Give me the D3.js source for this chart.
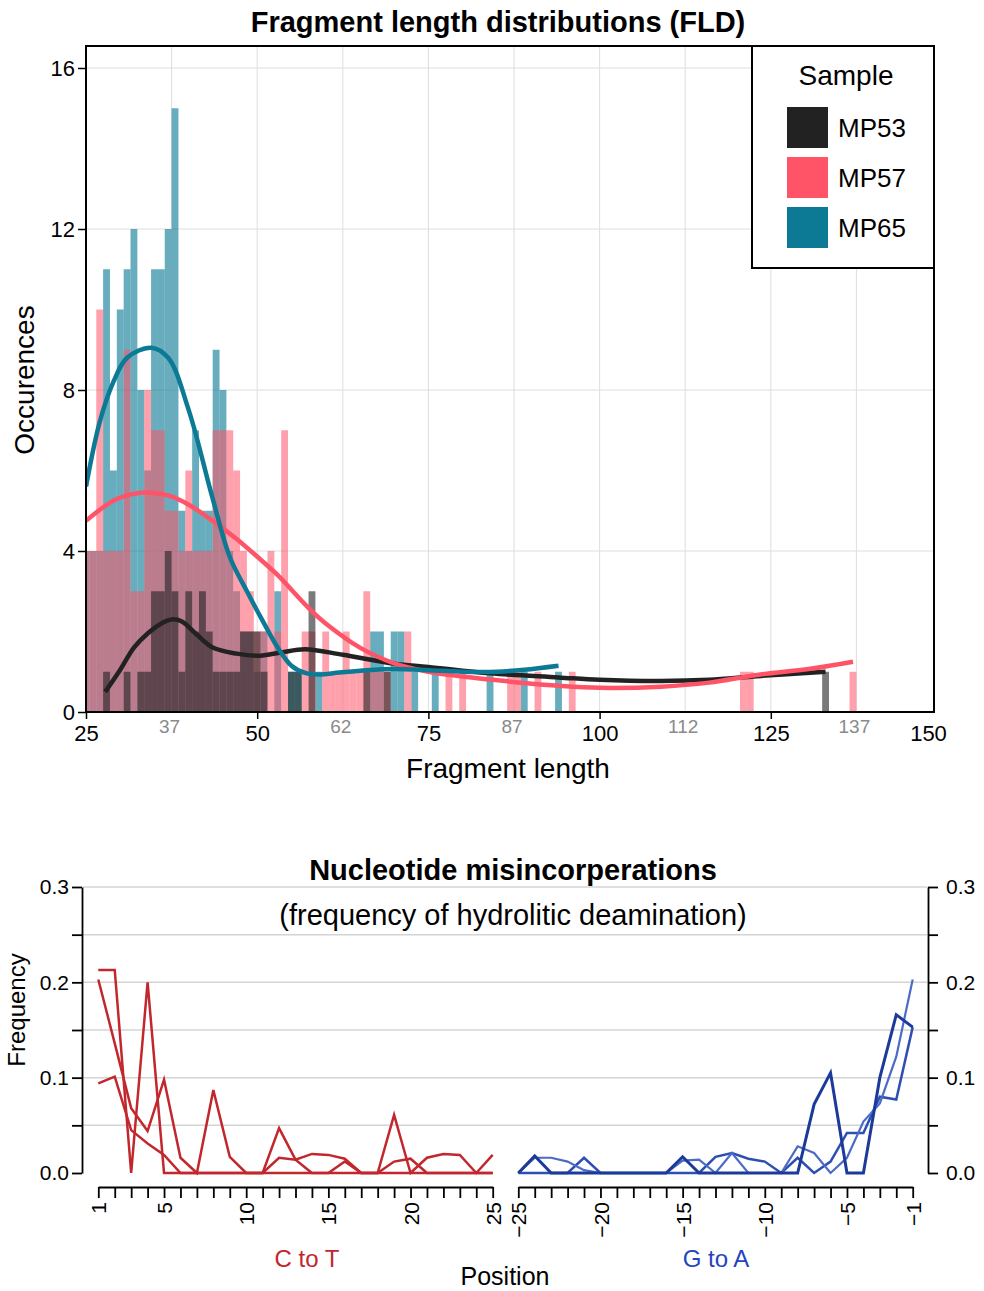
<!DOCTYPE html>
<html>
<head>
<meta charset="utf-8">
<script src="https://cdn.jsdelivr.net/npm/d3@7"></script>
<style>
  body { margin: 0; background: #fff; }
  svg { display: block; font-family: "Liberation Sans", Arial, Helvetica, sans-serif; }
</style>
</head>
<body>
<svg id="drawing_region"></svg>
<script>
// ---- fragment length histogram data (length -> occurences) ----
const samples = ['MP53', 'MP57', 'MP65'];

const mp53Lengths = [28,31,33,34,35,36,37,38,39,40,41,42,43,44,45,46,47,48,49,50,51,55,56,58,66,69,133];
const mp53Counts  = [1,1,1,1,3,3,4,3,1,3,2,3,2,1,1,1,1,2,2,2,1,1,1,3,1,1,1];

const mp57Lengths = [25,26,27,28,29,30,31,32,33,34,35,36,37,38,39,40,41,42,43,44,45,46,47,48,49,50,51,52,53,54,57,58,60,61,62,63,64,65,66,67,68,69,72,78,80,87,88,91,96,121,122,137];
const mp57Counts  = [4,4,10,4,4,4,9,3,3,8,7,7,5,5,4,6,4,4,4,7,7,7,6,4,3,2,2,4,2,7,2,2,2,1,1,2,1,1,3,1,1,1,2,1,1,1,1,1,1,1,1,1];

const mp65Lengths = [25,26,27,28,29,30,31,32,33,34,35,36,37,38,39,40,41,42,43,44,45,46,47,48,49,50,51,53,55,56,59,67,68,70,71,73,76,84,89,94];
const mp65Counts  = [4,4,4,11,6,10,11,12,8,6,11,11,12,15,5,4,7,5,5,9,8,4,3,2,2,1,2,3,1,1,1,2,2,2,2,1,1,1,1,1];

// smoothed density lines
const mp53SmoothX = [27.8,30,32,34,36,37.5,39,41,43.5,47,50.4,53.5,57,62.5,70,75,84,94,100,109,116,123,133];
const mp53SmoothY = [0.5,1.05,1.6,1.95,2.2,2.3,2.25,1.95,1.6,1.45,1.4,1.48,1.56,1.42,1.2,1.12,0.96,0.86,0.8,0.77,0.8,0.89,1.0];
const mp57SmoothX = [25,29,32,34.6,37,40,43.5,47,50.4,53,55.2,58,60,65,70,75,80,84.4,89,94,100,109,116,123,131,137];
const mp57SmoothY = [4.75,5.25,5.42,5.45,5.38,5.15,4.75,4.3,3.8,3.4,3.0,2.5,2.2,1.6,1.21,1.0,0.88,0.8,0.72,0.65,0.6,0.63,0.73,0.92,1.08,1.25];
const mp65SmoothX = [25,27,29,31,34.5,37,40,43.5,46,48.5,51,53,55,57,59,62,66,70,75,80,85,89,94];
const mp65SmoothY = [5.6,7.2,8.2,8.8,9.05,8.8,7.5,5.3,3.85,3.0,2.2,1.6,1.15,0.97,0.93,0.98,1.04,1.07,1.04,1.0,1.0,1.05,1.15];

const fldXTicks = [25,50,75,100,125,150];
const fldXMinor = [37.5,62.5,87.5,112.5,137.5];
const fldXMinorLabels = ['37','62','87','112','137'];
const fldYTicks = [0,4,8,12,16];

// ---- nucleotide misincorporation data ----
const posCT = [1,2,3,4,5,6,7,8,9,10,11,12,13,14,15,16,17,18,19,20,21,22,23,24,25];
const posGA = [-25,-24,-23,-22,-21,-20,-19,-18,-17,-16,-15,-14,-13,-12,-11,-10,-9,-8,-7,-6,-5,-4,-3,-2,-1];
const ct1 = [0.213,0.213,0,0.2,0,0,0,0,0,0,0,0,0,0,0,0,0,0,0,0,0,0,0,0,0];
const ct2 = [0.203,0.136,0.068,0.044,0.098,0.016,0,0.087,0.017,0,0,0.047,0.014,0,0,0.012,0,0,0.061,0,0.016,0.02,0.019,0,0.019];
const ct3 = [0.094,0.101,0.045,0.031,0.019,0,0,0,0,0,0,0.016,0.014,0.02,0.019,0.015,0,0,0.012,0.015,0,0,0,0,0];
const ga1 = [0,0.018,0,0,0,0,0,0,0,0,0.017,0,0,0,0,0,0,0,0.072,0.105,0,0,0.1,0.166,0.153];
const ga2 = [0,0.016,0.016,0.012,0.003,0,0,0,0,0,0.013,0.014,0,0.021,0,0,0,0.028,0.021,0,0.016,0.054,0.073,0.122,0.203];
const ga3 = [0,0,0,0,0.016,0,0,0,0,0,0,0,0.017,0.021,0.015,0.012,0,0.016,0,0.012,0.042,0.042,0.08,0.077,0.153];

const freqTicks = [0,0.05,0.1,0.15,0.2,0.25,0.3];
const ctTickLabels = [1,5,10,15,20,25];
const gaTickLabels = [-25,-20,-15,-10,-5,-1];

const colors = { MP53: '#222222', MP57: '#ff5468', MP65: '#0c7a94' };

const svg = d3.select('#drawing_region')
    .attr('width', 984)
    .attr('height', 1291);

svg.append('rect').attr('width', 984).attr('height', 1291).attr('fill', '#fff');

drawFLD();
drawMisincorporation();

function drawFLD() {
    const area = { left: 86, right: 934, top: 46, bottom: 712 };

    const x = d3.scaleLinear().domain([25, 150]).range([86, 942]);
    const y = d3.scaleLinear().domain([0, 16]).range([712, 68]);

    svg.append('clipPath').attr('id', 'fld-clip')
        .append('rect')
        .attr('x', area.left).attr('y', area.top)
        .attr('width', area.right - area.left).attr('height', area.bottom - area.top);

    const grid = svg.append('g').attr('stroke', '#dedede').attr('stroke-width', 1);
    grid.selectAll('.gx')
        .data(fldXTicks.concat(fldXMinor).filter(d => x(d) < area.right))
        .join('line')
        .attr('x1', d => x(d)).attr('x2', d => x(d))
        .attr('y1', area.top).attr('y2', area.bottom);
    grid.selectAll('.gy')
        .data(fldYTicks)
        .join('line')
        .attr('x1', area.left).attr('x2', area.right)
        .attr('y1', d => y(d)).attr('y2', d => y(d));

    const chart = svg.append('g').attr('clip-path', 'url(#fld-clip)');

    const bars = [
        { lengths: mp65Lengths, counts: mp65Counts, color: colors.MP65, opacity: 0.62 },
        { lengths: mp57Lengths, counts: mp57Counts, color: colors.MP57, opacity: 0.55 },
        { lengths: mp53Lengths, counts: mp53Counts, color: colors.MP53, opacity: 0.6 }
    ];
    bars.forEach(s => {
        chart.append('g')
            .selectAll('rect')
            .data(d3.zip(s.lengths, s.counts))
            .join('rect')
            .attr('x', d => x(d[0] - 0.5))
            .attr('width', d => x(d[0] + 0.5) - x(d[0] - 0.5))
            .attr('y', d => y(d[1]))
            .attr('height', d => y(0) - y(d[1]))
            .attr('fill', s.color)
            .attr('fill-opacity', s.opacity);
    });

    const line = d3.line()
        .x(d => x(d[0]))
        .y(d => y(d[1]))
        .curve(d3.curveCatmullRom.alpha(0.5));

    const smooth = [
        { xs: mp53SmoothX, ys: mp53SmoothY, color: colors.MP53 },
        { xs: mp57SmoothX, ys: mp57SmoothY, color: colors.MP57 },
        { xs: mp65SmoothX, ys: mp65SmoothY, color: colors.MP65 }
    ];
    smooth.forEach(s => {
        chart.append('path')
            .datum(d3.zip(s.xs, s.ys))
            .attr('d', line)
            .attr('fill', 'none')
            .attr('stroke', s.color)
            .attr('stroke-width', 4.5)
            .attr('stroke-linecap', 'butt');
    });

    // frame
    svg.append('rect')
        .attr('x', area.left).attr('y', area.top)
        .attr('width', area.right - area.left).attr('height', area.bottom - area.top)
        .attr('fill', 'none').attr('stroke', '#000').attr('stroke-width', 2);

    const yAxis = svg.append('g')
        .attr('transform', `translate(${area.left},0)`)
        .call(d3.axisLeft(y).tickValues(fldYTicks).tickSize(8).tickSizeOuter(0));
    yAxis.select('.domain').remove();
    yAxis.selectAll('line').attr('stroke-width', 1.5);
    yAxis.selectAll('text').attr('font-size', 22).attr('fill', '#000').attr('x', -11);

    const xAxis = svg.append('g')
        .attr('transform', `translate(0,${area.bottom})`)
        .call(d3.axisBottom(x).tickValues(fldXTicks).tickSize(7).tickSizeOuter(0));
    xAxis.select('.domain').remove();
    xAxis.selectAll('line').attr('stroke-width', 1.5);
    xAxis.selectAll('text').attr('font-size', 22).attr('fill', '#000').attr('y', 13);
    // last label sits at the frame corner in the original
    xAxis.selectAll('.tick').filter(d => d === 150).select('text').attr('dx', -14);
    xAxis.selectAll('.tick').filter(d => d === 150).select('line').remove();

    svg.append('g').selectAll('text')
        .data(d3.zip(fldXMinor, fldXMinorLabels))
        .join('text')
        .attr('x', d => x(d[0]) - 2)
        .attr('y', area.bottom + 21)
        .attr('text-anchor', 'middle')
        .attr('font-size', 19)
        .attr('fill', '#8a8a8a')
        .text(d => d[1]);

    svg.append('text')
        .attr('x', 498).attr('y', 32)
        .attr('text-anchor', 'middle')
        .attr('font-size', 29).attr('font-weight', 700)
        .text('Fragment length distributions (FLD)');

    svg.append('text')
        .attr('x', 508).attr('y', 778)
        .attr('text-anchor', 'middle')
        .attr('font-size', 28)
        .text('Fragment length');

    svg.append('text')
        .attr('transform', 'translate(34,380) rotate(-90)')
        .attr('text-anchor', 'middle')
        .attr('font-size', 28)
        .text('Occurences');

    // legend
    const legend = svg.append('g');
    legend.append('rect')
        .attr('x', 752).attr('y', 46).attr('width', 182).attr('height', 222)
        .attr('fill', '#fff').attr('stroke', '#000').attr('stroke-width', 2);
    legend.append('text')
        .attr('x', 846).attr('y', 85)
        .attr('text-anchor', 'middle')
        .attr('font-size', 28)
        .text('Sample');
    samples.forEach((s, i) => {
        legend.append('rect')
            .attr('x', 787).attr('y', 107 + i * 50)
            .attr('width', 41).attr('height', 41)
            .attr('fill', colors[s]);
        legend.append('text')
            .attr('x', 838).attr('y', 137 + i * 50)
            .attr('font-size', 26)
            .text(s);
    });
}

function drawMisincorporation() {
    const top = 887, bottom = 1173, leftX = 82, rightX = 928, axisY = 1187;

    const y = d3.scaleLinear().domain([0, 0.3]).range([bottom, top]);
    const xCT = d3.scaleLinear().domain([1, 25]).range([98.3, 492.7]);
    const xGA = d3.scaleLinear().domain([-25, -1]).range([518.3, 912.7]);

    svg.append('g').attr('stroke', '#d4d4d4').attr('stroke-width', 1.5)
        .selectAll('line')
        .data(freqTicks.filter(d => d > 0))
        .join('line')
        .attr('x1', leftX + 1).attr('x2', rightX - 1)
        .attr('y1', d => y(d)).attr('y2', d => y(d));

    const fmt = d => (Math.round(d * 100) % 10 === 0) ? d3.format('.1f')(d) : '';

    const yl = svg.append('g')
        .attr('transform', `translate(${leftX},0)`)
        .call(d3.axisLeft(y).tickValues(freqTicks).tickFormat(fmt).tickSize(10).tickSizeOuter(0));
    const yr = svg.append('g')
        .attr('transform', `translate(${rightX},0)`)
        .call(d3.axisRight(y).tickValues(freqTicks).tickFormat(fmt).tickSize(10).tickSizeOuter(0));
    [yl, yr].forEach(a => {
        a.select('.domain').attr('stroke-width', 1.8);
        a.selectAll('line').attr('stroke-width', 1.8);
        a.selectAll('text').attr('font-size', 21).attr('fill', '#000');
    });
    yl.selectAll('text').attr('x', -13);
    yr.selectAll('text').attr('x', 18);

    const bottomAxis = (scale, values, labels) => {
        const g = svg.append('g')
            .attr('transform', `translate(0,${axisY})`)
            .call(d3.axisBottom(scale).tickValues(values).tickSize(11).tickSizeOuter(0)
                .tickFormat(d => labels.includes(d) ? d3.format('d')(d) : ''));
        g.select('.domain').attr('stroke-width', 1.8);
        g.selectAll('line').attr('stroke-width', 1.8);
        g.selectAll('text')
            .attr('font-size', 21).attr('fill', '#000')
            .attr('transform', 'rotate(-90)')
            .attr('x', -15).attr('y', 0).attr('dy', '0.36em')
            .attr('text-anchor', 'end');
    };
    bottomAxis(xCT, posCT, ctTickLabels);
    bottomAxis(xGA, posGA, gaTickLabels);

    const ctLine = d3.line().x(d => xCT(d[0])).y(d => y(d[1]));
    const gaLine = d3.line().x(d => xGA(d[0])).y(d => y(d[1]));

    [ct1, ct2, ct3].forEach(vals => {
        svg.append('path')
            .datum(d3.zip(posCT, vals))
            .attr('d', ctLine)
            .attr('fill', 'none')
            .attr('stroke', '#c1272d')
            .attr('stroke-width', 2.5)
            .attr('stroke-linejoin', 'miter');
    });

    const gaStyles = [
        { vals: ga3, color: '#2d4fb2', width: 2.5 },
        { vals: ga2, color: '#4a6cc6', width: 2.2 },
        { vals: ga1, color: '#1b3a9a', width: 3 }
    ];
    gaStyles.forEach(s => {
        svg.append('path')
            .datum(d3.zip(posGA, s.vals))
            .attr('d', gaLine)
            .attr('fill', 'none')
            .attr('stroke', s.color)
            .attr('stroke-width', s.width);
    });

    svg.append('text')
        .attr('x', 513).attr('y', 880)
        .attr('text-anchor', 'middle')
        .attr('font-size', 29).attr('font-weight', 700)
        .text('Nucleotide misincorperations');
    svg.append('text')
        .attr('x', 513).attr('y', 925)
        .attr('text-anchor', 'middle')
        .attr('font-size', 29)
        .text('(frequency of hydrolitic deamination)');

    svg.append('text')
        .attr('transform', 'translate(25,1010) rotate(-90)')
        .attr('text-anchor', 'middle')
        .attr('font-size', 24)
        .text('Frequency');

    svg.append('text')
        .attr('x', 307).attr('y', 1267)
        .attr('text-anchor', 'middle')
        .attr('font-size', 24).attr('fill', '#c1272d')
        .text('C to T');
    svg.append('text')
        .attr('x', 716).attr('y', 1267)
        .attr('text-anchor', 'middle')
        .attr('font-size', 24).attr('fill', '#2443c0')
        .text('G to A');
    svg.append('text')
        .attr('x', 505).attr('y', 1285)
        .attr('text-anchor', 'middle')
        .attr('font-size', 25)
        .text('Position');
}
</script>
</body>
</html>
